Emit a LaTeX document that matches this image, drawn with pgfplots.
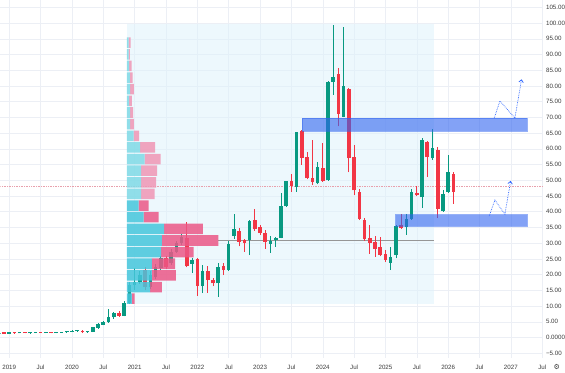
\documentclass[border=0pt]{standalone}
\usepackage{pgfplots}
\pgfplotsset{compat=1.18}
\usepackage{pgfplotstable}
\usepackage{fontspec}
\setmainfont{Liberation Sans}
\newfontfamily\dejavu{DejaVu Sans}
\usetikzlibrary{arrows.meta}

\definecolor{cgreen}{RGB}{8,153,129}
\definecolor{cred}{RGB}{242,54,69}
\definecolor{boxc}{RGB}{222,242,251}
\definecolor{gridc}{RGB}{236,239,245}
\definecolor{labc}{RGB}{60,60,60}
\definecolor{upL}{RGB}{128,218,230}
\definecolor{upS}{RGB}{70,198,220}
\definecolor{dnL}{RGB}{240,150,180}
\definecolor{dnS}{RGB}{236,88,135}
\definecolor{zonec}{RGB}{48,100,240}
\definecolor{arrc}{RGB}{41,98,255}
\definecolor{curc}{RGB}{232,160,172}
\definecolor{pocc}{RGB}{150,150,150}

% monthly candles, i = months since Jan 2019
\pgfplotstableread{
i o h l c
-2 1.2 1.4 1.1 1.3
0 1.25 1.5 1.2 1.4
2 1.35 1.6 1.3 1.5
4 1.4 1.55 1.3 1.45
5 1.45 1.7 1.4 1.6
7 1.5 1.75 1.4 1.65
9 1.4 1.6 1.35 1.5
10 1.5 1.7 1.45 1.6
11 1.6 1.95 1.55 1.85
12 1.85 2.3 1.7 2.0
13 2.0 2.4 1.8 2.2
15 1.6 2.0 1.5 1.8
16 1.8 3.4 1.7 3.2
17 3.0 4.5 2.8 4.2
18 4.1 5.3 3.9 5.0
19 4.9 9.1 4.7 6.6
20 6.4 8.2 6.0 7.7
22 6.9 11.5 6.7 10.9
23 10.9 17.5 10.6 16.7
24 16.7 22.0 15.1 17.5
25 17.7 21.0 17.0 19.9
27 16.1 21.0 15.5 19.9
28 19.3 23.5 18.5 22.5
29 22.0 26.0 21.5 25.2
31 23.6 28.0 23.0 27.3
32 27.3 30.8 26.8 29.9
33 29.9 33.0 29.5 32.0
35 23.4 25.3 20.5 24.6
37 16.3 23.0 14.1 21.3
40 17.2 23.6 13.0 22.3
42 21.6 30.6 21.3 29.8
43 32.2 39.4 31.3 34.5
46 30.9 37.4 26.2 37.1
50 29.7 32.2 26.9 30.7
51 30.9 32.0 28.9 31.8
52 31.8 45.9 31.5 41.7
53 41.7 49.9 41.5 49.8
55 48.0 65.4 46.4 65.2
59 49.0 55.9 48.7 54.3
61 50.0 81.6 49.8 81.4
62 81.2 99.3 77.2 82.8
64 70.2 98.8 70.0 80.0
73 23.8 28.8 21.5 25.7
74 26.2 35.8 25.2 35.5
76 35.2 39.4 32.6 37.8
77 37.8 47.3 37.5 46.3
79 44.6 63.3 41.3 62.8
81 57.0 66.4 56.5 60.2
83 40.3 46.9 40.0 45.6
84 46.4 57.9 46.0 52.7
}\upcandles

\pgfplotstableread{
i o h l c
-1 1.3 1.45 1.2 1.25
1 1.4 1.55 1.3 1.35
3 1.5 1.6 1.35 1.4
6 1.6 1.8 1.45 1.5
8 1.65 1.8 1.3 1.4
14 2.2 2.5 1.4 1.7
21 7.7 8.3 6.6 6.9
26 21.4 22.5 15.0 16.1
30 25.2 26.0 21.8 22.5
34 31.5 36.8 22.3 22.7
36 25.0 25.3 13.2 16.3
38 21.2 22.6 14.3 18.3
39 18.3 18.8 16.3 17.2
41 22.7 23.7 19.8 21.6
44 34.0 34.7 29.0 30.5
45 30.9 31.4 27.3 30.2
47 37.3 40.8 34.0 34.4
48 35.0 35.7 32.6 33.3
49 33.3 34.1 28.3 30.5
54 49.8 52.1 46.3 48.1
56 65.7 65.9 55.0 57.1
57 57.5 59.1 50.3 50.6
58 50.8 62.7 48.5 49.5
60 53.8 61.9 49.5 49.8
63 83.7 85.6 67.1 71.1
65 79.0 79.5 52.5 57.0
66 57.4 61.2 45.3 46.8
67 46.3 47.3 37.3 37.8
68 37.5 38.0 30.8 31.2
69 31.7 35.7 26.7 30.1
70 30.4 32.2 25.7 28.3
71 28.8 31.9 25.8 26.2
72 26.7 27.7 24.0 24.8
75 35.7 39.4 34.5 34.9
78 46.0 48.1 44.9 45.3
80 62.3 62.6 51.1 57.4
82 59.7 60.5 38.0 40.9
85 52.0 52.5 42.6 46.4
}\downcandles

% volume profile rows (lengths in pt): offset, up light, up value-area, down light, down value-area
\pgfplotstableread{
y off cl cs pl ps
93.75 126.7 1.7 0 2.0 0
90.05 126.7 1.7 0 1.3 0
86.35 126.7 2.3 0 2.4 0
82.65 126.7 3.0 0 2.7 0
78.95 126.7 3.3 0 3.7 0
75.25 126.7 2.3 0 2.7 0
71.55 126.7 3.3 0 3.0 0
67.85 126.7 3.3 0 3.7 0
64.15 126.7 6.7 0 5.6 0
60.45 126.7 13.3 0 15.0 0
56.75 126.7 17.7 0 16.0 0
53.05 126.7 14.3 0 16.0 0
49.35 126.7 14.3 0 15.0 0
45.65 126.7 14.3 0 13.4 0
41.95 126.7 0 11.7 0 10.0
38.25 126.7 0 16.7 0 15.0
34.55 126.7 0 37.3 0 38.7
30.85 126.7 0 35.0 0 56.7
27.15 126.7 0 34.3 0 32.4
23.45 126.7 0 25.0 0 23.3
19.75 126.7 0 25.0 0 24.0
16.05 126.7 0 23.3 0 11.7
12.35 126.7 0 5.0 0 2.7
}\profile

\pgfplotsset{
  candle/.style 2 args={draw=none, no markers, forget plot,
    error bars/.cd, y dir=plus, y explicit, error mark=none,
    error bar style={solid, line width=#2, draw=#1}},
}

\begin{document}
\begin{tikzpicture}
\begin{axis}[
  scale only axis, width=543pt, height=358pt,
  xmin=2018.8566, xmax=2027.51, ymin=-6.514, ymax=107.245,
  axis line style={draw=none},
  xtick={2019,2019.5,2020,2020.5,2021,2021.5,2022,2022.5,2023,2023.5,2024,2024.5,2025,2025.5,2026,2026.5,2027,2027.5},
  xticklabels={2019,Jul,2020,Jul,2021,Jul,2022,Jul,2023,Jul,2024,Jul,2025,Jul,2026,Jul,2027,Jul},
  ytick={-5,0,5,10,15,20,25,30,35,40,45,50,55,60,65,70,75,80,85,90,95,100,105},
  yticklabels={−5.00,0.0000,5.00,10.00,15.00,20.00,25.00,30.00,35.00,40.00,45.00,50.00,55.00,60.00,65.00,70.00,75.00,80.00,85.00,90.00,95.00,100.00,105.00},
  yticklabel pos=right,
  major tick length=0pt,
  grid=major, grid style={draw=gridc, line width=0.5pt},
  tick label style={font=\fontsize{6.2}{7}\selectfont, text=labc},
  xticklabel style={anchor=center, yshift=-9pt, inner sep=0pt},
  yticklabel style={anchor=west, inner sep=0pt, xshift=3pt},
]
% range box of the volume profile
\addplot[draw=none, fill=boxc, fill opacity=0.55, forget plot] coordinates {(2020.876,10.6) (2025.778,10.6) (2025.778,99.8) (2020.876,99.8)} -- cycle;

% current price line
\addplot[densely dotted, draw=curc, line width=0.7pt, forget plot] coordinates {(2018.8566,48.2) (2027.51,48.2)};
% POC line
\addplot[draw=pocc, line width=0.7pt, forget plot] coordinates {(2022.336,30.9) (2025.778,30.9)};

% wicks
\addplot[candle={cgreen}{0.8pt}]
  table[x expr=2019+\thisrow{i}/12, y=l, y error plus expr=\thisrow{h}-\thisrow{l}] \upcandles;
\addplot[candle={cred}{0.8pt}]
  table[x expr=2019+\thisrow{i}/12, y=l, y error plus expr=\thisrow{h}-\thisrow{l}] \downcandles;
% bodies
\addplot[candle={cgreen}{3.6pt}]
  table[x expr=2019+\thisrow{i}/12, y expr={min(\thisrow{o},\thisrow{c})}, y error plus expr={max(abs(\thisrow{c}-\thisrow{o}),0.35)}] \upcandles;
\addplot[candle={cred}{3.6pt}]
  table[x expr=2019+\thisrow{i}/12, y expr={min(\thisrow{o},\thisrow{c})}, y error plus expr={max(abs(\thisrow{c}-\thisrow{o}),0.35)}] \downcandles;

% supply / demand zones
\addplot[draw=zonec, draw opacity=0.5, line width=0.4pt, fill=zonec, fill opacity=0.6, forget plot] coordinates {(2023.665,65.6) (2027.255,65.6) (2027.255,69.8) (2023.665,69.8)} -- cycle;
\addplot[draw=zonec, draw opacity=0.5, line width=0.4pt, fill=zonec, fill opacity=0.6, forget plot] coordinates {(2025.163,35.5) (2027.255,35.5) (2027.255,39.1) (2025.163,39.1)} -- cycle;

% projected paths
\addplot[densely dotted, draw=arrc, line width=0.7pt, -{Straight Barb[length=2.5pt,width=4.5pt]}, forget plot] coordinates {(2026.734,69.8) (2026.825,75.2) (2027.064,69.8) (2027.171,82.1)};
\addplot[densely dotted, draw=arrc, line width=0.7pt, -{Straight Barb[length=2.5pt,width=4.5pt]}, forget plot] coordinates {(2026.654,38.6) (2026.745,43.7) (2026.905,39.2) (2026.996,49.8)};
\end{axis}

% volume profile overlay
\begin{axis}[
  scale only axis, width=543pt, height=358pt,
  xmin=0, xmax=543, ymin=-6.514, ymax=107.245,
  hide axis, xbar stacked, bar width=3.35,
]
\addplot[draw=none, fill=none] table[x=off, y=y] \profile;
\addplot[draw=none, fill=upL, fill opacity=0.85] table[x=cl, y=y] \profile;
\addplot[draw=none, fill=upS, fill opacity=0.85] table[x=cs, y=y] \profile;
\addplot[draw=none, fill=dnL, fill opacity=0.85] table[x=pl, y=y] \profile;
\addplot[draw=none, fill=dnS, fill opacity=0.85] table[x=ps, y=y] \profile;
\end{axis}

\node[font=\dejavu\fontsize{7}{7}\selectfont, text=labc] at (557pt,-9pt) {⚙};
\path[use as bounding box] (0pt,-15pt) rectangle (565pt,358pt);
\end{tikzpicture}
\end{document}
